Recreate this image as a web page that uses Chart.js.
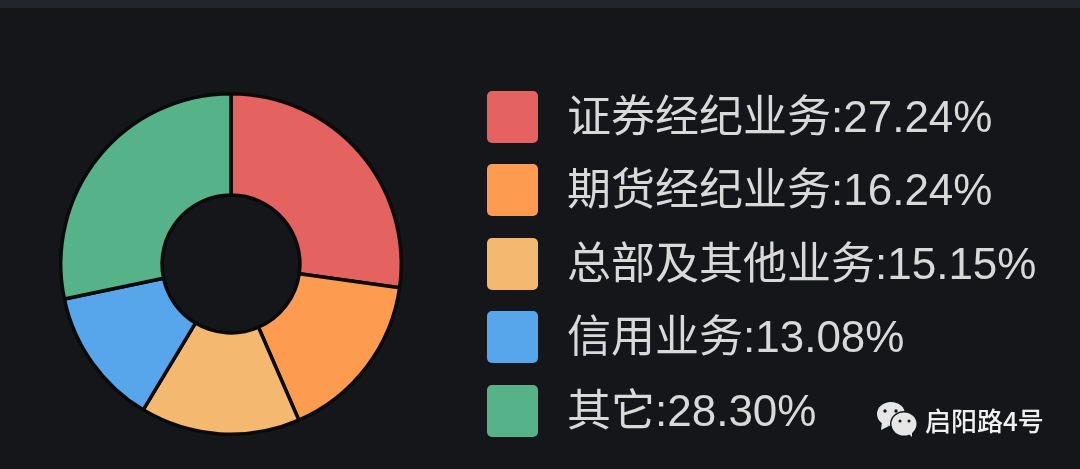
<!DOCTYPE html>
<html>
<head>
<meta charset="utf-8">
<script src="https://cdn.jsdelivr.net/npm/chart.js@4/dist/chart.umd.js"></script>
<style>
    html, body { margin: 0; width: 1080px; height: 469px; overflow: hidden; background: #14161a; }
    #top-strip { position: absolute; left: 0; top: 0; width: 1080px; height: 8px; background: #22252a; }
    #pie { position: absolute; left: 0; top: 0; }
    #legend { position: absolute; left: 487px; top: 91px; font-family: "Liberation Sans", "Noto Sans CJK SC", sans-serif; }
    .row { position: relative; height: 73.4px; white-space: nowrap; }
    .swatch { position: absolute; left: 0; top: 0; width: 51px; height: 52px; border-radius: 5px; }
    .text { position: absolute; left: 80px; top: 1px; font-size: 44px; line-height: 50px; color: #d9d9d9; }
    #mark { position: absolute; left: 877px; top: 402px; }
    #mark-text { position: absolute; left: 925px; top: 404px; font: 500 26px/32px "Noto Sans CJK SC", sans-serif; color: #f0f0f0; }
</style>
</head>
<body>
<div id="top-strip"></div>
<canvas id="pie" width="1080" height="469"></canvas>
<div id="legend"></div>
<svg id="mark" width="42" height="37" viewBox="0 0 42 37">
    <ellipse cx="14" cy="12" rx="14" ry="12" fill="#e6e6e6"/>
    <path d="M5 20 L4 28 L12 24 Z" fill="#e6e6e6"/>
    <ellipse cx="27" cy="22" rx="14" ry="13" fill="#14161a"/>
    <ellipse cx="27" cy="22" rx="12.5" ry="11.5" fill="#e6e6e6"/>
    <path d="M31 31 L35 35 L35 29 Z" fill="#e6e6e6"/>
    <circle cx="8" cy="9" r="1.7" fill="#14161a"/>
    <circle cx="19" cy="9" r="1.7" fill="#14161a"/>
    <circle cx="23" cy="19" r="1.5" fill="#14161a"/>
    <circle cx="32" cy="19" r="1.5" fill="#14161a"/>
</svg>
<div id="mark-text">启阳路4号</div>
<script>
const categories = ['证券经纪业务', '期货经纪业务', '总部及其他业务', '信用业务', '其它'];
const shares = [27.24, 16.24, 15.15, 13.08, 28.30];
const colors = ['#e46260', '#fd9c51', '#f4b870', '#57a5eb', '#55b289'];

const htmlLegend = {
    id: 'htmlLegend',
    afterUpdate(chart) {
        const box = document.getElementById('legend');
        box.innerHTML = '';
        const items = chart.options.plugins.legend.labels.generateLabels(chart);
        items.forEach(item => {
            const row = document.createElement('div');
            row.className = 'row';
            row.innerHTML = `
                <div class="swatch" style="background: ${item.fillStyle}"></div>
                <div class="text">${item.text}:${shares[item.index].toFixed(2)}%</div>
            `;
            box.appendChild(row);
        });
    }
};

new Chart(document.getElementById('pie').getContext('2d'), {
    type: 'doughnut',
    data: {
        labels: categories,
        datasets: [{
            data: shares,
            backgroundColor: colors,
            borderColor: '#0a0a0a',
            borderWidth: 3.5
        }]
    },
    options: {
        responsive: false,
        animation: false,
        cutout: '40.5%',
        layout: { padding: { left: 59, top: 92, right: 677, bottom: 33 } },
        plugins: { legend: { display: false }, tooltip: { enabled: false } }
    },
    plugins: [htmlLegend]
});
</script>
</body>
</html>
